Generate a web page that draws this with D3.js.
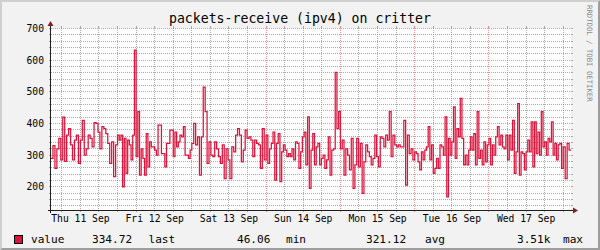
<!DOCTYPE html>
<html lang="en">
	<head>
		<meta charset="UTF-8" />
		<title>packets-receive (ipv4) on critter</title>
		<script src="https://d3js.org/d3.v7.min.js"></script>
		<style>
			body {
				margin: 0;
				background: #f2f2f2;
			}
			svg {
				display: block;
				font-family: 'DejaVu Sans Mono', monospace;
			}
		</style>
	</head>
	<body>
		<svg id="chart" width="600" height="250"></svg>
		<script>
			const title = 'packets-receive (ipv4) on critter';
			const watermark = 'RRDTOOL / TOBI OETIKER';

			// time window shown (UTC, so the page does not depend on the local zone)
			const startTime = new Date(Date.UTC(2025, 8, 11, 2, 30));
			const endTime = new Date(Date.UTC(2025, 8, 18, 2, 30));

			const dayLabels = [
				'Thu 11 Sep',
				'Fri 12 Sep',
				'Sat 13 Sep',
				'Sun 14 Sep',
				'Mon 15 Sep',
				'Tue 16 Sep',
				'Wed 17 Sep',
			];
			const labelDates = [11, 12, 13, 14, 15, 16, 17].map(
				(d) => new Date(Date.UTC(2025, 8, d, 12)),
			);

			const yDomain = [125, 700];
			const yTicks = [200, 300, 400, 500, 600, 700];

			// legend: series name, then value / consolidation pairs
			const seriesName = 'value';
			const legendValues = ['334.72', '46.06', '321.12', '3.51k'];
			const legendNames = ['last', 'min', 'avg', 'max'];

			// packets received, one array per day
			const thu11 = [
				290, 330, 258, 320, 353, 285, 420, 280, 363, 384, 332, 285, 347, 363,
				274, 347, 410, 300, 320, 363, 353, 326, 403, 400, 373, 320, 390, 384,
				368, 337, 274, 342, 232, 332,
			];
			const fri12 = [
				363, 347, 363, 200, 353, 242, 347, 332, 285, 363, 632, 295, 437, 237,
				320, 290, 237, 368, 263, 342, 326, 326, 316, 300, 395, 395, 305, 305,
				263, 337, 337, 379, 379, 295, 373, 326, 342, 363, 358, 390, 300, 300,
				290, 316,
			];
			const sat13 = [
				337, 400, 332, 358, 237, 358, 515, 437, 274, 342, 300, 295, 342, 320,
				295, 274, 332, 226, 320, 285, 226, 326, 310, 363, 384, 363, 279, 316,
				379, 353, 358, 347, 295, 347, 337, 332, 258, 384, 285,
			];
			const sun14 = [
				363, 274, 320, 337, 373, 221, 337, 368, 216, 310, 332, 316, 295, 305,
				295, 320, 285, 342, 337, 258, 310, 358, 373, 269, 421, 195, 316, 368,
				269, 326, 337, 269, 290, 300, 258, 285, 358, 237, 316, 320, 561, 384,
				437,
			];
			const mon15 = [
				320, 347, 237, 320, 300, 253, 353, 195, 269, 353, 263, 337, 179, 279,
				332, 310, 295, 269, 290, 363, 295, 263, 358, 353, 326, 363, 347, 437,
				295, 363, 332, 326, 332, 326, 326, 410, 205, 363, 305, 320, 285,
			];
			const tue16 = [
				310, 305, 279, 253, 310, 285, 316, 326, 390, 285, 332, 242, 258, 290,
				258, 332, 326, 300, 421, 168, 353, 300, 342, 452, 290, 384, 358, 479,
				353, 269, 300, 269, 316, 358, 316, 368, 269, 437, 290, 316, 269, 342,
				279, 332,
			];
			const wed17 = [
				353, 269, 332, 300, 358, 390, 332, 363, 326, 320, 363, 285, 363, 316,
				410, 242, 310, 463, 237, 310, 305, 253, 310, 347, 310, 405, 263, 405,
				305, 373, 300, 437, 326, 342, 300, 353, 342, 405, 300, 337, 285, 332,
				337, 258,
			];
			const thu18 = [326, 226, 337, 316];

			const days = [thu11, fri12, sat13, sun14, mon15, tue16, wed17, thu18];

			const width = 600;
			const height = 250;
			const plot = { left: 51, right: 571, top: 28, bottom: 210 };

			const colors = {
				back: '#f2f2f2',
				canvas: '#ffffff',
				shadeA: '#cfcfcf',
				shadeB: '#9e9e9e',
				grid: 'rgba(143,143,143,0.75)',
				mgrid: 'rgba(222,79,79,0.6)',
				axis: '#1f1f1f',
				arrow: '#801f1f',
				line: '#dc143c',
				font: '#000000',
			};

			const svg = d3.select('#chart');

			const x = d3
				.scaleUtc()
				.domain([startTime, endTime])
				.range([plot.left, plot.right]);

			const y = d3
				.scaleLinear()
				.domain(yDomain)
				.range([plot.bottom + 0.5, plot.top + 0.5]);

			const crisp = (v) => Math.round(v - 0.5) + 0.5;

			// background and 3d border
			svg
				.append('rect')
				.attr('width', width)
				.attr('height', height)
				.attr('fill', colors.back);
			svg
				.append('path')
				.attr('d', `M0,${height}L2,${height - 2}L2,2L${width - 2},2L${width},0L0,0Z`)
				.attr('fill', colors.shadeA);
			svg
				.append('path')
				.attr(
					'd',
					`M2,${height - 2}L${width - 2},${height - 2}L${width - 2},2L${width},0L${width},${height}L0,${height}Z`,
				)
				.attr('fill', colors.shadeB);

			svg
				.append('rect')
				.attr('x', plot.left)
				.attr('y', plot.top)
				.attr('width', plot.right - plot.left)
				.attr('height', plot.bottom - plot.top)
				.attr('fill', colors.canvas);

			// grid
			const grid = svg.append('g').attr('fill', 'none').attr('stroke-width', 1);

			const minorY = d3.range(140, 701, 20).filter((v) => v % 100 !== 0);
			const midnights = d3.utcDay.range(startTime, endTime);
			const minorX = d3.utcHour
				.every(6)
				.range(startTime, endTime)
				.filter((t) => t.getUTCHours() !== 0);

			const hLine = (v, color) => {
				const yy = crisp(y(v));
				grid
					.append('line')
					.attr('x1', plot.left - 2)
					.attr('x2', plot.left)
					.attr('y1', yy)
					.attr('y2', yy)
					.attr('stroke', color);
				grid
					.append('line')
					.attr('x1', plot.right)
					.attr('x2', plot.right + 2)
					.attr('y1', yy)
					.attr('y2', yy)
					.attr('stroke', color);
				grid
					.append('line')
					.attr('x1', plot.left)
					.attr('x2', plot.right)
					.attr('y1', yy)
					.attr('y2', yy)
					.attr('stroke', color)
					.attr('stroke-dasharray', '1,1');
			};

			const vLine = (t, color) => {
				const xx = crisp(x(t));
				grid
					.append('line')
					.attr('x1', xx)
					.attr('x2', xx)
					.attr('y1', plot.bottom)
					.attr('y2', plot.bottom + 2)
					.attr('stroke', color);
				grid
					.append('line')
					.attr('x1', xx)
					.attr('x2', xx)
					.attr('y1', plot.top - 2)
					.attr('y2', plot.top)
					.attr('stroke', color);
				grid
					.append('line')
					.attr('x1', xx)
					.attr('x2', xx)
					.attr('y1', plot.top)
					.attr('y2', plot.bottom)
					.attr('stroke', color)
					.attr('stroke-dasharray', '1,1');
			};

			minorY.forEach((v) => hLine(v, colors.grid));
			minorX.forEach((t) => vLine(t, colors.grid));
			yTicks.forEach((v) => hLine(v, colors.mgrid));
			midnights.forEach((t) => vLine(t, colors.mgrid));

			// y labels
			svg
				.append('g')
				.attr('font-size', 9.7)
				.attr('fill', colors.font)
				.attr('text-anchor', 'end')
				.selectAll('text')
				.data(yTicks)
				.join('text')
				.attr('x', plot.left - 7)
				.attr('y', (d) => y(d) + 3.5)
				.text((d) => d);

			// x labels
			svg
				.append('g')
				.attr('font-size', 9.7)
				.attr('fill', colors.font)
				.attr('text-anchor', 'middle')
				.selectAll('text')
				.data(labelDates)
				.join('text')
				.attr('x', (d) => x(d))
				.attr('y', plot.bottom + 12)
				.text((d, i) => dayLabels[i]);

			// data line: each day's readings share that day's span
			svg
				.append('clipPath')
				.attr('id', 'clip')
				.append('rect')
				.attr('x', plot.left)
				.attr('y', plot.top)
				.attr('width', plot.right - plot.left)
				.attr('height', plot.bottom - plot.top);

			const bounds = [startTime, ...midnights, endTime];
			const points = [];
			days.forEach((vals, k) => {
				const t0 = +bounds[k];
				const span = +bounds[k + 1] - t0;
				vals.forEach((v, i) => {
					points.push({ t: new Date(t0 + (i * span) / vals.length), v });
				});
			});
			points.push({ t: endTime, v: thu18[thu18.length - 1] });

			const line = d3
				.line()
				.x((d) => x(d.t))
				.y((d) => y(d.v))
				.curve(d3.curveStepAfter);

			svg
				.append('path')
				.attr('clip-path', 'url(#clip)')
				.attr('d', line(points))
				.attr('fill', 'none')
				.attr('stroke', colors.line)
				.attr('stroke-width', 1.25);

			// axes with arrows
			svg
				.append('line')
				.attr('x1', plot.left - 0.5)
				.attr('x2', plot.left - 0.5)
				.attr('y1', plot.bottom + 3)
				.attr('y2', plot.top - 4)
				.attr('stroke', colors.axis);
			svg
				.append('line')
				.attr('x1', plot.left - 3)
				.attr('x2', plot.right + 4)
				.attr('y1', plot.bottom + 0.5)
				.attr('y2', plot.bottom + 0.5)
				.attr('stroke', colors.axis);
			svg
				.append('path')
				.attr('d', d3.line()([[plot.left - 3.5, plot.top - 2], [plot.left + 2.5, plot.top - 2], [plot.left - 0.5, plot.top - 7]]) + 'Z')
				.attr('fill', colors.arrow);
			svg
				.append('path')
				.attr('d', d3.line()([[plot.right + 2, plot.bottom - 2.5], [plot.right + 2, plot.bottom + 3.5], [plot.right + 7, plot.bottom + 0.5]]) + 'Z')
				.attr('fill', colors.arrow);

			// title
			svg
				.append('text')
				.attr('x', width / 2)
				.attr('y', 23)
				.attr('text-anchor', 'middle')
				.attr('font-size', 13.2)
				.attr('fill', colors.font)
				.text(title);

			// watermark on the right edge
			svg
				.append('text')
				.attr('transform', 'translate(587,5) rotate(90)')
				.attr('font-size', 7.3)
				.attr('fill', '#8c8c8c')
				.text(watermark);

			// legend
			const legend = svg
				.append('g')
				.attr('font-size', 11.1)
				.attr('fill', colors.font);
			legend
				.append('rect')
				.attr('x', 14.5)
				.attr('y', 235.5)
				.attr('width', 8)
				.attr('height', 8)
				.attr('fill', colors.line)
				.attr('stroke', '#000');
			legend.append('text').attr('x', 31).attr('y', 243).text(seriesName);
			const valueX = [92, 237, 366, 517];
			const nameX = [148.5, 286, 425, 563];
			legend
				.selectAll('text.val')
				.data(legendValues)
				.join('text')
				.attr('class', 'val')
				.attr('x', (d, i) => valueX[i])
				.attr('y', 243)
				.text((d) => d);
			legend
				.selectAll('text.name')
				.data(legendNames)
				.join('text')
				.attr('class', 'name')
				.attr('x', (d, i) => nameX[i])
				.attr('y', 243)
				.text((d) => d);
		</script>
</body>
</html>
